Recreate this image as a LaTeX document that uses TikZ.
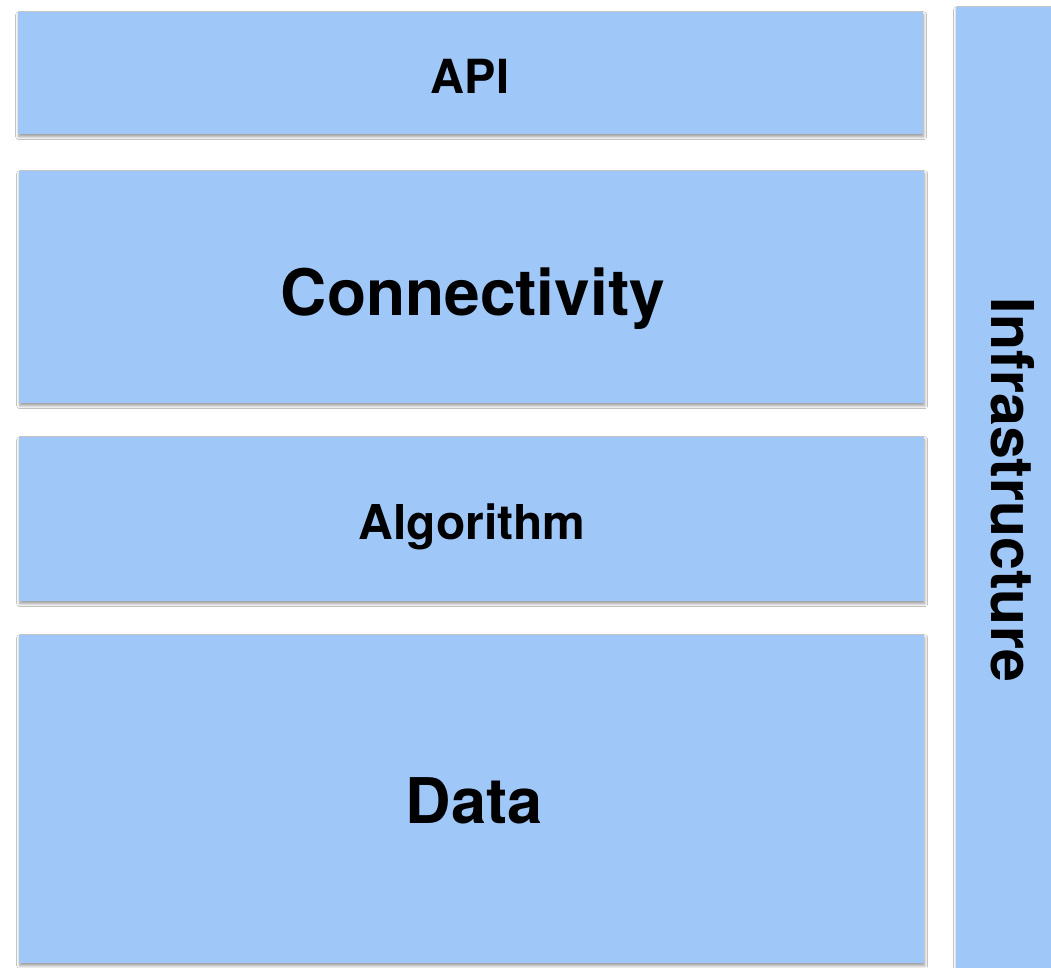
\documentclass[tikz,border=0pt]{standalone}
\usepackage{fontspec}
\setmainfont{TeX Gyre Heros}
\usetikzlibrary{shadows.blur}
\definecolor{layerblue}{HTML}{9FC7F8}
\tikzset{
  layer/.style={fill=layerblue, draw=none, rectangle, inner sep=0pt,
    blur shadow={shadow xshift=0.5pt, shadow yshift=-2.5pt, shadow blur radius=3pt, shadow opacity=40}},
  lbl/.style={font=\bfseries, text=black, inner sep=0pt, anchor=base}
}
\begin{document}
\begin{tikzpicture}[x=1pt,y=1pt]
\useasboundingbox[fill=white] (0,0) rectangle (1051,-968);
% layers
\node[layer, minimum width=905pt, minimum height=122pt, anchor=north west] (api) at (18,-12) {};
\node[layer, minimum width=905pt, minimum height=232pt, anchor=north west] (conn) at (19,-171) {};
\node[layer, minimum width=905pt, minimum height=164pt, anchor=north west] (algo) at (19,-437) {};
\node[layer, minimum width=905pt, minimum height=328pt, anchor=north west] (data) at (19,-635) {};
\node[layer, minimum width=95pt, minimum height=975pt, anchor=north west] (infra) at (956,-7) {};
% labels
\node[lbl, font=\fontsize{47}{50}\selectfont\bfseries] (apit) at (470,-94) {API};
\node[lbl, font=\fontsize{64}{68}\selectfont\bfseries] (connt) at (473,-315) {Connectivity};
\node[lbl, font=\fontsize{48}{52}\selectfont\bfseries] (algot) at (472,-539) {Algorithm};
\node[lbl, font=\fontsize{63}{68}\selectfont\bfseries] (datat) at (474,-823) {Data};
\node[lbl, font=\fontsize{59}{64}\selectfont\bfseries, rotate=-90] (infrat) at (991,-490) {Infrastructure};
\end{tikzpicture}
\end{document}
